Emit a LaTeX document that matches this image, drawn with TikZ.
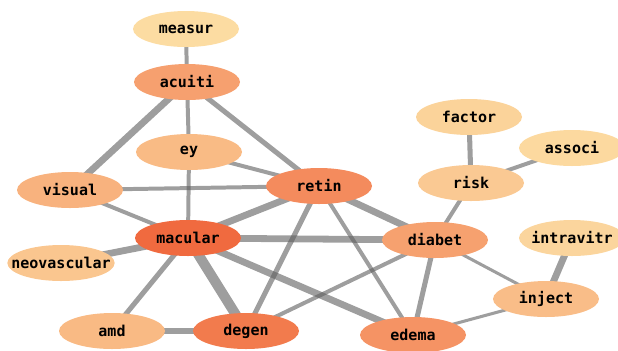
\documentclass[tikz,border=0pt]{standalone}
\usepackage{fontspec}
\setmonofont{DejaVu Sans Mono}
\usetikzlibrary{shapes.geometric, backgrounds}

\definecolor{cMacular}{HTML}{F06A3F}
\definecolor{cDegen}{HTML}{F27B4D}
\definecolor{cRetin}{HTML}{F48B5D}
\definecolor{cEdema}{HTML}{F59364}
\definecolor{cAcuiti}{HTML}{F6A06F}
\definecolor{cDiabet}{HTML}{F6A16F}
\definecolor{cVisual}{HTML}{F8B27E}
\definecolor{cEy}{HTML}{F9BB85}
\definecolor{cAmd}{HTML}{F9BA84}
\definecolor{cInject}{HTML}{F9BD88}
\definecolor{cNeo}{HTML}{FAC68F}
\definecolor{cRisk}{HTML}{FAC993}
\definecolor{cFactor}{HTML}{FBD39A}
\definecolor{cIntra}{HTML}{FBD59D}
\definecolor{cAssoci}{HTML}{FCD99F}
\definecolor{cMeasur}{HTML}{FCDCA2}
\definecolor{linkgray}{HTML}{5E5E5E}

\begin{document}
\begin{tikzpicture}[x=0.03cm, y=-0.03cm, line cap=butt]

% --- Global TikZ Styles ---
\tikzset{
    term/.style={
        ellipse,
        draw=none,
        minimum width=106*0.03cm,
        minimum height=36*0.03cm,
        inner xsep=-10pt,
        inner ysep=0pt,
        font=\fontsize{12.8}{14}\selectfont\ttfamily\bfseries
    },
    link/.style={
        draw=linkgray,
        draw opacity=0.6
    },
    linkA/.style={link, line width=2.6pt},
    linkB/.style={link, line width=3.4pt},
    linkC/.style={link, line width=4.3pt},
    linkD/.style={link, line width=5.8pt},
    linkE/.style={link, line width=8.6pt}
}

\useasboundingbox (0,0) rectangle (618,350);

% --- Termen ---
\node[term, fill=cMeasur]  (measur)      at (186,29)  {measur};
\node[term, fill=cAcuiti]  (acuiti)      at (187,82)  {acuiti};
\node[term, fill=cEy]      (ey)          at (189,152) {ey};
\node[term, fill=cVisual]  (visual)      at (70,190)  {visual};
\node[term, fill=cRetin]   (retin)       at (319,186) {retin};
\node[term, fill=cMacular] (macular)     at (188,238) {macular};
\node[term, fill=cNeo]     (neovascular) at (61,263)  {neovascular};
\node[term, fill=cAmd]     (amd)         at (112,331) {amd};
\node[term, fill=cDegen]   (degen)       at (246,331) {degen};
\node[term, fill=cEdema]   (edema)       at (413,335) {edema};
\node[term, fill=cDiabet]  (diabet)      at (435,240) {diabet};
\node[term, fill=cRisk]    (risk)        at (471,183) {risk};
\node[term, fill=cFactor]  (factor)      at (469,117) {factor};
\node[term, fill=cAssoci]  (associ)      at (572,148) {associ};
\node[term, fill=cIntra]   (intravitr)   at (572,238) {intravitr};
\node[term, fill=cInject]  (inject)      at (546,299) {inject};

% --- Verbindingen (achter de termen) ---
\begin{scope}[on background layer]
    \draw[linkB] (measur.center) -- (acuiti.center);
    \draw[linkB] (acuiti.center) -- (ey.center);
    \draw[linkD] (acuiti.center) -- (visual.center);
    \draw[linkC] (acuiti.center) -- (retin.center);
    \draw[linkB] (ey.center) -- (retin.center);
    \draw[linkB] (ey.center) -- (macular.center);
    \draw[linkB] (visual.center) -- (retin.center);
    \draw[linkB] (visual.center) -- (macular.center);
    \draw[linkD] (macular.center) -- (retin.center);
    \draw[linkD] (macular.center) -- (diabet.center);
    \draw[linkD] (macular.center) -- (neovascular.center);
    \draw[linkC] (macular.center) -- (amd.center);
    \draw[linkE] (macular.center) -- (degen.center);
    \draw[linkD] (macular.center) -- (edema.center);
    \draw[linkC] (retin.center) -- (degen.center);
    \draw[linkD] (retin.center) -- (diabet.center);
    \draw[linkB] (retin.center) -- (edema.center);
    \draw[linkB] (degen.center) -- (diabet.center);
    \draw[linkC] (amd.center) -- (degen.center);
    \draw[linkC] (diabet.center) -- (edema.center);
    \draw[linkB] (diabet.center) -- (risk.center);
    \draw[linkA] (diabet.center) -- (inject.center);
    \draw[linkC] (risk.center) -- (factor.center);
    \draw[linkB] (risk.center) -- (associ.center);
    \draw[linkD] (inject.center) -- (intravitr.center);
    \draw[linkA] (inject.center) -- (edema.center);
\end{scope}

\end{tikzpicture}
\end{document}
